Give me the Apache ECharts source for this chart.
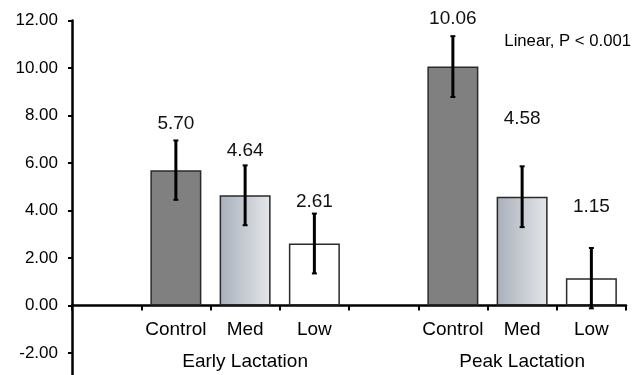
<!DOCTYPE html>
<html>
<head>
<meta charset="utf-8">
<script src="https://cdn.jsdelivr.net/npm/echarts@6/dist/echarts.min.js"></script>
<style>
  html, body { margin: 0; padding: 0; background: #fff; }
  #chart { width: 642px; height: 375px; }
</style>
</head>
<body>
<div id="chart"></div>
<script>
// Treatment categories, with an empty slot before each lactation stage
const categories = ['', 'Control', 'Med', 'Low', '', 'Control', 'Med', 'Low'];
// Stage names, shown under the middle treatment of each group
const stageLabels = ['', '', 'Early Lactation', '', '', '', 'Peak Lactation', ''];
// Means and standard errors per slot (null = empty slot)
const meanValues = [null, 5.70, 4.64, 2.61, null, 10.06, 4.58, 1.15];
const errorValues = [null, 1.25, 1.26, 1.26, null, 1.28, 1.28, 1.27];
// Y axis tick values
const yTicks = [-2, 0, 2, 4, 6, 8, 10, 12];
const trendNote = 'Linear, P < 0.001';

// Distance (px) from the top of each error bar to the centre of its value label
const labelLift = [0, 17, 15, 12, 0, 17, 48, 41];

const FONT = 'Liberation Sans, Arial, sans-serif';

const fillFor = {
  Control: '#808080',
  Med: new echarts.graphic.LinearGradient(0, 0, 1, 0, [
    { offset: 0, color: '#a9b0bb' },
    { offset: 1, color: '#e4e6e9' }
  ]),
  Low: '#ffffff'
};

const barData = meanValues.map((v, i) => v === null ? null : {
  value: v,
  itemStyle: { color: fillFor[categories[i]], borderColor: '#2a2a2a', borderWidth: 1.5 }
});

const errData = [];
meanValues.forEach((v, i) => {
  if (v !== null) errData.push([i, v, errorValues[i]]);
});

const chart = echarts.init(document.getElementById('chart'), null, { renderer: 'canvas' });

// The plot runs down to -3 (below the window edge); the category and stage
// labels sit just under the zero line, so they are pulled up from the grid edge.
chart.setOption({
  animation: false,
  backgroundColor: '#ffffff',
  grid: { left: 72, right: 16, top: 20.5, height: 356.25, containLabel: false, outerBoundsMode: 'none' },
  xAxis: [
    {
      type: 'category',
      data: categories,
      axisLine: { onZero: true, lineStyle: { color: '#000', width: 2.5 } },
      axisTick: { show: true, length: 5, lineStyle: { color: '#000', width: 2 } },
      axisLabel: { interval: 0, margin: -56, color: '#000', fontFamily: FONT, fontSize: 19 }
    },
    {
      type: 'category',
      data: stageLabels,
      position: 'bottom',
      axisLine: { show: false, onZero: true, onZeroAxisIndex: 0 },
      axisTick: { show: false },
      axisLabel: { interval: 0, margin: -24, color: '#000', fontFamily: FONT, fontSize: 19 }
    }
  ],
  yAxis: {
    type: 'value',
    min: -3,
    max: 12,
    splitLine: { show: false },
    axisLine: { show: true, lineStyle: { color: '#000', width: 2.5 } },
    axisTick: { show: true, length: 4, customValues: yTicks, lineStyle: { color: '#000', width: 2 } },
    axisLabel: {
      customValues: yTicks,
      margin: 14,
      color: '#000',
      fontFamily: FONT,
      fontSize: 17,
      formatter: v => v.toFixed(2)
    }
  },
  graphic: [{
    type: 'text',
    right: 11,
    top: 33,
    style: { text: trendNote, fill: '#000', font: '16.7px ' + FONT }
  }],
  series: [
    {
      type: 'bar',
      xAxisIndex: 0,
      data: barData,
      barWidth: 51,
      z: 2
    },
    {
      type: 'custom',
      xAxisIndex: 0,
      data: errData,
      z: 5,
      renderItem: (params, api) => {
        const idx = api.value(0);
        const m = api.value(1);
        const e = api.value(2);
        const top = api.coord([idx, m + e]);
        const bot = api.coord([idx, m - e]);
        const x = top[0];
        const stroke = { stroke: '#000', lineWidth: 3 };
        const cap = { stroke: '#000', lineWidth: 2 };
        return {
          type: 'group',
          children: [
            { type: 'line', shape: { x1: x, y1: top[1], x2: x, y2: bot[1] }, style: stroke },
            { type: 'line', shape: { x1: x - 2.5, y1: top[1], x2: x + 2.5, y2: top[1] }, style: cap },
            { type: 'line', shape: { x1: x - 2.5, y1: bot[1], x2: x + 2.5, y2: bot[1] }, style: cap },
            {
              type: 'text',
              x: x,
              y: top[1] - labelLift[idx],
              style: {
                text: m.toFixed(2),
                fill: '#111',
                font: '19px ' + FONT,
                textAlign: 'center',
                textVerticalAlign: 'middle'
              }
            }
          ]
        };
      }
    }
  ]
});
</script>
</body>
</html>
